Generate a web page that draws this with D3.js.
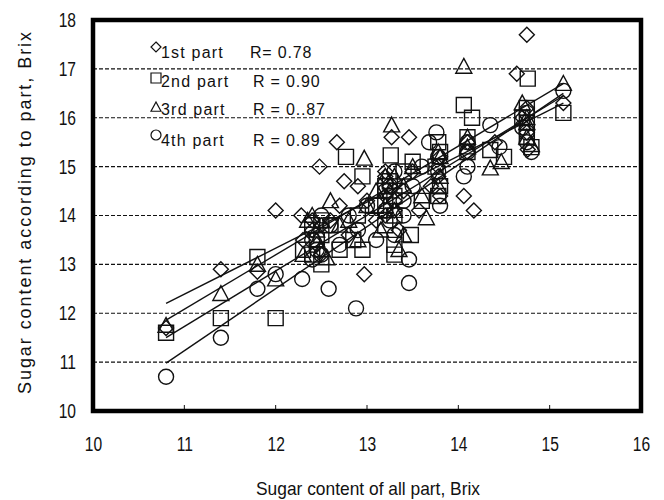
<!DOCTYPE html>
<html>
<head>
<meta charset="utf-8">
<script src="https://cdn.jsdelivr.net/npm/d3@7"></script>
<style>
  body { margin: 0; background: #fff; }
  svg { font-family: "Liberation Sans", Arial, sans-serif; }
  .tick text { font-size: 20px; fill: #111; }
</style>
</head>
<body>
<div id="chart"></div>
<script>
// tick values
var xTicks = [10, 11, 12, 13, 14, 15, 16];
var yTicks = [10, 11, 12, 13, 14, 15, 16, 17, 18];

// legend
var partNames = ["1st part", "2nd part", "3rd part", "4th part"];
var rLabels = ["R= 0.78", "R = 0.90", "R = 0..87", "R = 0.89"];

// [all part, this part] Brix
var part1 = [[10.8,11.7],[11.4,12.9],[11.8,12.85],[12.0,14.1],[12.28,14.0],[12.3,13.5],[12.4,13.7],[12.48,15.0],[12.5,13.2],
  [12.6,13.9],[12.67,15.5],[12.7,14.2],[12.75,14.7],[12.8,13.6],[12.9,14.6],[12.97,12.8],[13.0,14.3],[13.1,13.9],
  [13.2,14.8],[13.2,14.4],[13.27,15.6],[13.3,14.1],[13.35,13.7],[13.4,14.5],[13.46,15.6],[13.5,14.9],[13.57,14.1],
  [13.7,14.6],[13.8,15.2],[13.8,14.4],[14.06,14.4],[14.1,15.3],[14.17,14.1],[14.4,15.5],[14.64,16.9],[14.75,17.7],
  [14.7,16.0],[14.76,15.35],[15.15,16.3],
  [12.45,13.4],[12.5,13.8],[13.2,14.0],[13.25,14.6],[13.3,14.3],[13.78,14.8],[13.78,15.0],[14.1,15.5],[14.75,16.2],
  [14.75,15.7],[12.4,13.9],[13.2,14.9]];
var part2 = [[10.8,11.6],[11.4,11.9],[11.8,13.15],[12.0,11.9],[12.3,13.3],[12.4,13.8],[12.5,13.6],[12.5,13.0],
  [12.6,13.8],[12.7,13.3],[12.77,15.2],[12.85,13.5],[12.9,14.0],[12.95,13.3],[12.95,14.8],[13.1,14.2],[13.2,13.8],
  [13.2,14.6],[13.26,15.23],[13.3,14.4],[13.3,13.4],[13.4,14.9],[13.48,13.6],[13.5,15.1],[13.6,14.3],[13.75,15.0],
  [13.8,14.6],[13.8,15.3],[14.06,16.26],[14.1,15.6],[14.15,16.0],[14.35,15.34],[14.5,15.2],[14.7,16.0],[14.75,16.2],
  [14.76,16.8],[14.8,15.4],[15.15,16.1],
  [12.45,13.5],[12.5,13.9],[12.4,13.2],[13.2,14.3],[13.3,14.0],[13.25,14.7],[13.78,14.4],[13.78,15.5],[14.1,15.3],
  [14.75,15.9],[14.75,15.6],[13.3,13.2]];
var part3 = [[10.8,11.75],[11.4,12.4],[11.8,13.0],[12.0,12.7],[12.3,13.2],[12.35,13.9],[12.45,13.5],[12.56,13.13],
  [12.6,14.3],[12.7,13.8],[12.8,13.9],[12.9,13.5],[12.97,15.17],[13.0,14.2],[13.1,14.5],[13.15,13.7],[13.2,14.8],
  [13.27,15.85],[13.3,14.1],[13.35,13.3],[13.4,14.6],[13.5,15.0],[13.6,14.4],[13.65,13.95],[13.8,14.8],[13.8,15.2],
  [14.06,17.05],[14.1,15.6],[14.35,14.97],[14.47,15.1],[14.7,16.3],[14.75,15.6],[14.8,15.45],[15.15,16.7],
  [12.45,13.7],[12.5,13.3],[12.4,14.0],[13.2,14.2],[13.25,14.5],[13.3,14.8],[13.78,14.6],[13.78,15.3],[14.1,15.4],
  [14.75,16.0],[14.75,15.9],[13.4,13.6]];
var part4 = [[10.8,10.7],[11.4,11.5],[11.8,12.5],[12.0,12.8],[12.29,12.7],[12.4,13.5],[12.5,13.2],[12.58,12.5],
  [12.6,13.8],[12.7,13.4],[12.8,14.0],[12.88,12.1],[12.9,13.7],[13.0,14.2],[13.1,13.5],[13.2,14.5],[13.25,13.9],
  [13.3,14.9],[13.4,14.3],[13.46,13.1],[13.46,12.62],[13.5,14.6],[13.6,15.0],[13.68,15.5],[13.76,15.7],[13.8,14.2],
  [14.06,14.8],[14.1,15.3],[14.1,15.5],[14.35,15.85],[14.45,15.4],[14.7,15.8],[14.75,15.5],[14.8,15.3],[15.15,16.55],
  [12.45,13.3],[12.5,14.0],[12.4,13.1],[13.2,14.1],[13.25,14.6],[13.3,13.6],[13.78,14.9],[13.78,15.2],[14.1,15.0],
  [14.75,15.7],[14.75,16.1],[13.4,14.0]];

// fitted lines, ends
var fitX = [10.8, 15.15];
var fit1 = [12.2, 16.3];
var fit2 = [11.5, 16.45];
var fit3 = [11.86, 16.7];
var fit4 = [10.98, 16.5];

var svgWidth = 664, svgHeight = 500;
var margin = {top: 20, right: 23, bottom: 89, left: 93};
var width = svgWidth - margin.left - margin.right;
var height = svgHeight - margin.top - margin.bottom;

var svg = d3.select("#chart").append("svg")
    .attr("width", svgWidth)
    .attr("height", svgHeight);

var chartGroup = svg.append("g")
    .attr("transform", `translate(${margin.left}, ${margin.top})`);

var x = d3.scaleLinear().domain([10, 16]).range([0, width]);
var y = d3.scaleLinear().domain([10, 18]).range([height, 0]);

// squeeze text to look like the narrow face in the original
function narrow(sel, k) {
  sel.each(function() {
    var len = this.getComputedTextLength();
    d3.select(this).attr("textLength", len * k).attr("lengthAdjust", "spacingAndGlyphs");
  });
}

// dashed gridlines
chartGroup.selectAll(".grid")
  .data(yTicks.filter(d => d > 10 && d < 18))
  .enter().append("line")
  .attr("x1", 0).attr("x2", width)
  .attr("y1", d => y(d)).attr("y2", d => y(d))
  .attr("stroke", "#111")
  .attr("stroke-width", 1.2)
  .attr("stroke-dasharray", "4,2");

// small inward ticks on the bottom
chartGroup.selectAll(".xt")
  .data(xTicks.slice(1, -1))
  .enter().append("line")
  .attr("x1", d => x(d)).attr("x2", d => x(d))
  .attr("y1", height).attr("y2", height - 6)
  .attr("stroke", "#111");

// axes labels only
var bottomAxis = d3.axisBottom(x).tickValues(xTicks).tickSize(0).tickPadding(26).tickFormat(d3.format("d"));
var leftAxis = d3.axisLeft(y).tickValues(yTicks).tickSize(0).tickPadding(17).tickFormat(d3.format("d"));

chartGroup.append("g")
  .attr("transform", `translate(0, ${height})`)
  .call(bottomAxis)
  .call(g => g.select(".domain").remove())
  .call(g => narrow(g.selectAll("text"), 0.78));

chartGroup.append("g")
  .call(leftAxis)
  .call(g => g.select(".domain").remove())
  .call(g => narrow(g.selectAll("text"), 0.78));

// marker shapes
function shape(kind, s) {
  var h = s / 2;
  if (kind === 0) return `M0,${-h}L${h},0L0,${h}L${-h},0Z`;
  if (kind === 1) return `M${-h},${-h}H${h}V${h}H${-h}Z`;
  if (kind === 2) return `M0,${-h}L${h},${h * 0.85}L${-h},${h * 0.85}Z`;
  return d3.arc()({innerRadius: 0, outerRadius: h, startAngle: 0, endAngle: 2 * Math.PI});
}

var parts = [part1, part2, part3, part4];
var sizes = [15, 15, 16, 15];

parts.forEach(function(data, i) {
  chartGroup.append("g").selectAll("path")
    .data(data)
    .enter().append("path")
    .attr("transform", d => `translate(${x(d[0])}, ${y(d[1])})`)
    .attr("d", shape(i, sizes[i]))
    .attr("fill", "none")
    .attr("stroke", "#111")
    .attr("stroke-width", 1.4);
});

// regression lines
var line = d3.line().x((d, i) => x(fitX[i])).y(d => y(d));
[fit1, fit2, fit3, fit4].forEach(function(f) {
  chartGroup.append("path")
    .attr("d", line(f))
    .attr("fill", "none")
    .attr("stroke", "#111")
    .attr("stroke-width", 1.4);
});

// frame
chartGroup.append("rect")
  .attr("width", width).attr("height", height)
  .attr("fill", "none")
  .attr("stroke", "#000")
  .attr("stroke-width", 4.5);

// legend
var legendY = [47, 78, 107, 135];
var textY = [58, 87, 115, 146];
partNames.forEach(function(name, i) {
  svg.append("path")
    .attr("transform", `translate(156, ${legendY[i]})`)
    .attr("d", shape(i, 10))
    .attr("fill", "none")
    .attr("stroke", "#111")
    .attr("stroke-width", 1.2);
  svg.append("text")
    .attr("x", 161).attr("y", textY[i])
    .attr("font-size", 16)
    .attr("letter-spacing", 1.2)
    .attr("fill", "#111")
    .text(name);
  svg.append("text")
    .attr("x", i === 0 ? 250 : 253).attr("y", textY[i])
    .attr("font-size", 16)
    .attr("letter-spacing", 0.8)
    .attr("fill", "#111")
    .text(rLabels[i]);
});

// axis titles
svg.append("text")
  .attr("transform", "rotate(-90)")
  .attr("x", -213).attr("y", 31)
  .attr("text-anchor", "middle")
  .attr("font-size", 18)
  .attr("textLength", 362)
  .attr("lengthAdjust", "spacing")
  .attr("fill", "#111")
  .text("Sugar content according to part, Brix");

svg.append("text")
  .attr("x", 368).attr("y", 495)
  .attr("text-anchor", "middle")
  .attr("font-size", 19)
  .attr("textLength", 224)
  .attr("lengthAdjust", "spacingAndGlyphs")
  .attr("fill", "#111")
  .text("Sugar content of all part, Brix");
</script>
</body>
</html>
